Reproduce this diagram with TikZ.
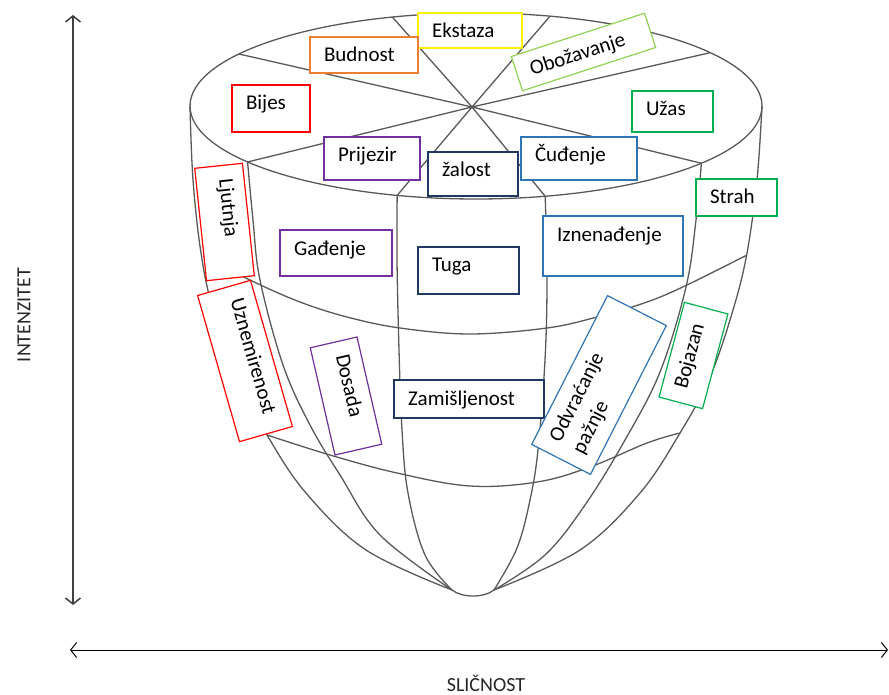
\documentclass[tikz,border=0pt]{standalone}
\usepackage{fontspec}
\setmainfont{Carlito}
\usetikzlibrary{arrows.meta,calc}

\definecolor{rojo}{HTML}{FF0000}
\definecolor{naranja}{HTML}{ED7D31}
\definecolor{amarillo}{HTML}{FFF200}
\definecolor{verdeclaro}{HTML}{92D050}
\definecolor{verde}{HTML}{00B050}
\definecolor{morado}{HTML}{7030A0}
\definecolor{marino}{HTML}{1F3864}
\definecolor{azul}{HTML}{2E75B6}

\begin{document}
\begin{tikzpicture}[x=1pt, y=-1pt,
  cono/.style={draw=black!65, line width=1.3pt},
  eje/.style={{Straight Barb[length=6pt, width=15pt]}-{Straight Barb[length=6pt, width=15pt]}},
  okvir/.style={draw=#1, fill=white, line width=1.2pt, align=flush left,
    font=\fontsize{21}{26}\selectfont, inner xsep=14pt, inner ysep=5pt, text height=20pt}]
\useasboundingbox (0,0) rectangle (889,695);
% Ejes
\coordinate (gore) at (73,15);
\coordinate (dolje) at (73,605);
\coordinate (lijevo) at (70,650);
\coordinate (desno) at (888,650);
\draw [eje, draw=black!75, line width=1.5pt] (gore) -- (dolje);
\draw [eje, line width=1pt] (lijevo) -- (desno);
\node [rotate=90, text=black!85, inner sep=1pt, font=\fontsize{20}{24}\selectfont] (intenzitet) at (24,315) {INTENZITET};
\node [text=black!85, inner sep=1pt, font=\fontsize{20}{24}\selectfont] (slicnost) at (486,683) {SLIČNOST};
% Cono
\coordinate (O) at (476,106);
\coordinate (centro) at (472,107);
\coordinate (vrhL) at (452,590);
\coordinate (vrhD) at (494,590);
\draw [cono] (O) ellipse [x radius=286pt, y radius=93pt];
\foreach \t in {35,75,107,146,217,254,284,322}
  \coordinate (r\t) at ($(O)+(\t:286pt and 93pt)$);
\foreach \t in {35,75,107,146,217,254,284,322}
  \draw [cono] (centro) -- (r\t);
% ---
% meridianos
% ---
\draw [cono] plot [smooth, tension=0.6] coordinates {(190,106) (193,180) (201,253) (213,310) (236,377) (267,435) (306,493) (366,550) (vrhL)};
\draw [cono] plot [smooth, tension=0.6] coordinates {(r217) (253,220) (260,280) (283,365) (310,425) (340,475) (380,535) (vrhL)};
\draw [cono] plot [smooth, tension=0.6] coordinates {(r254) (397,260) (399,350) (402,430) (408,493) (425,555) (vrhL)};
\draw [cono] plot [smooth, tension=0.6] coordinates {(r284) (547,280) (545,360) (538,450) (530,500) (517,548) (vrhD)};
\draw [cono] plot [smooth, tension=0.6] coordinates {(r322) (696,220) (686,287) (660,372) (625,440) (585,505) (545,555) (vrhD)};
\draw [cono] plot [smooth, tension=0.6] coordinates {(762,106) (757,180) (747,253) (733,310) (710,377) (680,433) (640,493) (580,550) (vrhD)};
\draw [cono] (vrhL) .. controls (462,598) and (484,598) .. (vrhD);
% ---
% anillos
% ---
\draw [cono] plot [smooth, tension=0.6] coordinates {(203,256) (252,281) (300,302) (347,317) (400,328) (470,334) (547,328) (597,317) (647,302) (687,285) (747,255)};
\draw [cono] plot [smooth, tension=0.6] coordinates {(267,435) (330,455) (397,473) (470,486) (537,482) (590,467) (647,443) (680,433)};
% Emociones
\node [okvir=amarillo, text width=76pt, text depth=5pt] (ekstaza) at (470,30.5) {Ekstaza};
\node [okvir=naranja, text width=80pt, text depth=6pt] (budnost) at (364,55) {Budnost};
\node [okvir=verdeclaro, text width=112pt, text depth=6pt, rotate=18] (obozavanje) at (583.5,52) {Obožavanje};
\node [okvir=rojo, text width=50pt, text depth=17pt] (bijes) at (271,108.5) {Bijes};
\node [okvir=verde, text width=53pt, text depth=11pt] (uzas) at (672.5,111.5) {Užas};
\node [okvir=morado, text width=68pt, text depth=13pt] (prijezir) at (372,158.5) {Prijezir};
\node [okvir=marino, text width=62pt, text depth=14pt] (zalost) at (473,174) {žalost};
\node [okvir=azul, text width=88pt, text depth=13pt] (cudenje) at (579,158.5) {Čuđenje};
\node [okvir=verde, text width=53pt, text depth=7pt] (strah) at (736.5,197.5) {Strah};
\node [okvir=rojo, text width=85pt, text depth=18pt, rotate=-84] (ljutnja) at (224.5,222) {Ljutnja};
\node [okvir=morado, text width=84pt, text depth=16pt] (gadenje) at (336,253) {Gađenje};
\node [okvir=marino, text width=73pt, text depth=17pt] (tuga) at (468.5,270.5) {Tuga};
\node [okvir=azul, text width=112pt, text depth=30pt] (iznenadenje) at (613,246) {Iznenađenje};
\node [okvir=rojo, text width=124pt, text depth=25pt, rotate=-74] (uznemirenost) at (245,361) {Uznemirenost};
\node [okvir=morado, text width=82pt, text depth=18pt, rotate=-77] (dosada) at (346,396) {Dosada};
\node [okvir=marino, text width=122pt, text depth=8pt] (zamisljenost) at (469,399) {Zamišljenost};
\node [okvir=azul, text width=139pt, text depth=36pt, rotate=63] (odvracanje) at (599,385) {Odvraćanje\\ pažnje};
\node [okvir=verde, text width=70pt, text depth=15pt, rotate=75] (bojazan) at (693.5,355.5) {Bojazan};
\end{tikzpicture}
\end{document}
